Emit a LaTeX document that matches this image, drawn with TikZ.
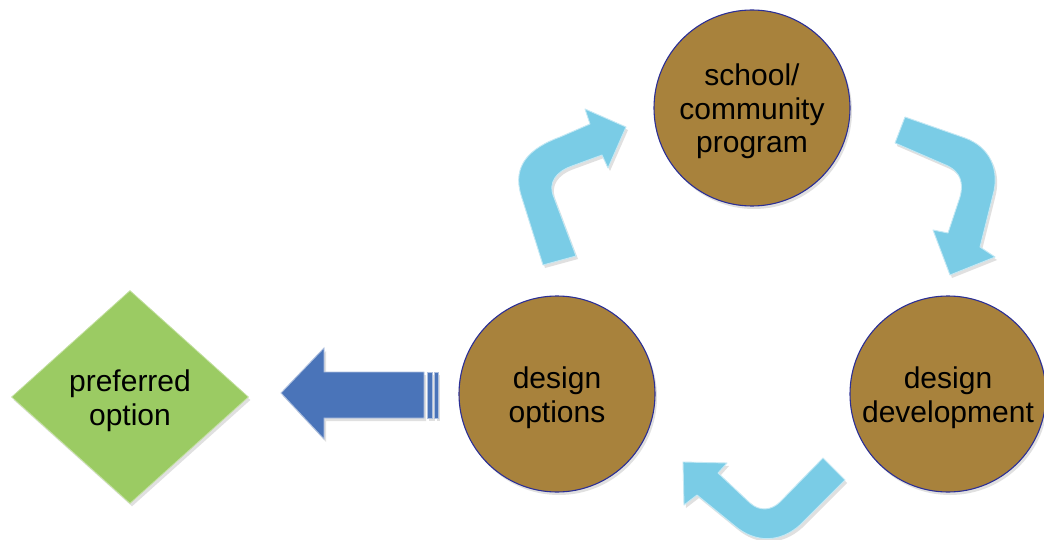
\documentclass[tikz,border=0pt]{standalone}
\usepackage{fontspec}
\setmainfont{Liberation Sans}
\usetikzlibrary{shapes.geometric,shadows}
\definecolor{brownfill}{RGB}{168,130,60}
\definecolor{rimblue}{RGB}{43,47,150}
\definecolor{greenfill}{RGB}{155,203,99}
\definecolor{arrowblue}{RGB}{74,116,185}
\definecolor{lightarrow}{RGB}{122,204,230}
\tikzset{
  softshadow/.style={drop shadow={shadow xshift=2pt,shadow yshift=-3pt,opacity=0.2,fill=black!60}},
  stage/.style={circle,minimum size=196pt,inner sep=0pt,fill=brownfill,draw=rimblue,line width=1.1pt,softshadow},
  decision/.style={diamond,minimum width=237pt,minimum height=213pt,inner sep=0pt,fill=greenfill,
    draw=greenfill!60!white,line width=0.8pt,softshadow},
  inlabel/.style={label={[align=center,font=\fontsize{30}{33.5}\selectfont,yshift=-3.5pt]center:#1}},
  cyclearrow/.style={fill=lightarrow,draw=lightarrow!45!white,line width=0.9pt,line join=round,softshadow},
  outarrow/.style={fill=arrowblue,draw=arrowblue!45!white,line width=0.9pt,softshadow}
}
\begin{document}
\begin{tikzpicture}[x=1pt,y=-1pt]
\clip (0,0) rectangle (1044,540);
\fill[white] (0,0) rectangle (1044,540);

% nodes
\node[stage,inlabel={school/\\community\\program}] (prog) at (752,108) {};
\node[stage,inlabel={design\\options}] (opts) at (557,394) {};
\node[stage,inlabel={design\\development}] (dev) at (948,394) {};
\node[decision,inlabel={preferred\\option}] (pref) at (130,397) {};

% curved cycle arrows
\path[cyclearrow] (543,265) -- (521,195) .. controls (512,165) and (530,148) .. (560,137)
  -- (590,124) -- (585,109) -- (626,127) -- (608,168) -- (602,155) -- (572,166)
  .. controls (555,172) and (549,183) .. (553,195) -- (576,256) -- cycle;

\path[cyclearrow] (905,117) -- (965,138) .. controls (990,147) and (1000,170) .. (993,195)
  -- (980,247) -- (995,257) -- (950,275) -- (933,230) -- (948,233) -- (960,197)
  .. controls (964,183) and (960,172) .. (948,166) -- (895,143) -- cycle;

\path[cyclearrow] (683,462) -- (727,463) -- (718,473) -- (750,503)
  .. controls (760,512) and (772,510) .. (780,502) -- (823,458) -- (845,480) -- (800,525)
  .. controls (780,543) and (755,543) .. (735,526) -- (697,495) -- (684,505) -- cycle;

% arrow towards preferred option
\path[outarrow] (281,393) -- (324,348) -- (324,372) -- (424,372) -- (424,418) -- (324,418) -- (324,439) -- cycle;
\path[outarrow] (427,372) rectangle (432.5,418);
\path[outarrow] (434.5,372) rectangle (438,418);
\end{tikzpicture}
\end{document}
